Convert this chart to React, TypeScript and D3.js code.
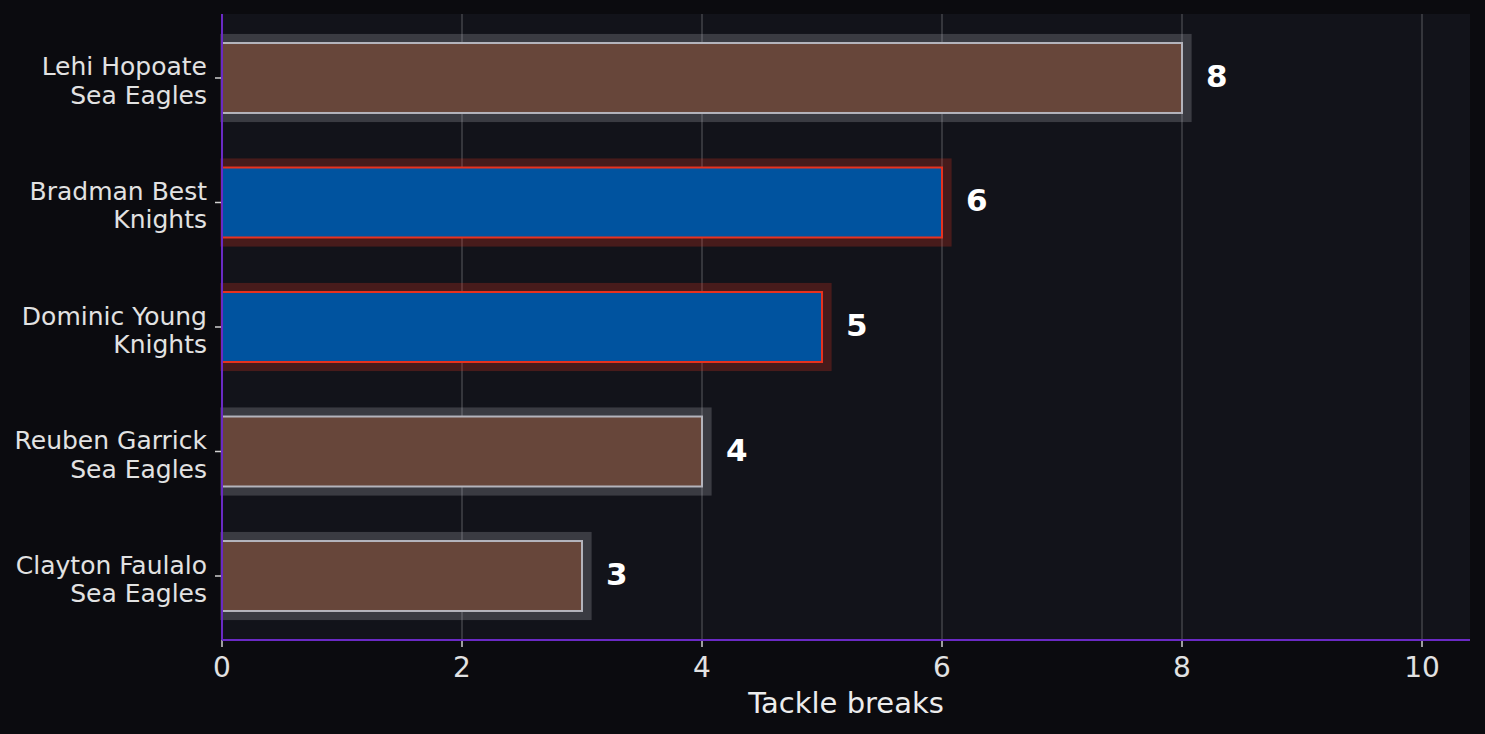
import * as d3 from 'd3';
import React, { useEffect, useRef } from 'react';

// data, top to bottom
const players = ['Lehi Hopoate', 'Bradman Best', 'Dominic Young', 'Reuben Garrick', 'Clayton Faulalo'];
const teams = ['Sea Eagles', 'Knights', 'Knights', 'Sea Eagles', 'Sea Eagles'];
const tackleBreaks = [8, 6, 5, 4, 3];
const xTicks = [0, 2, 4, 6, 8, 10];

const teamFill: any = { 'Sea Eagles': '#67463a', 'Knights': '#00539f' };
const teamEdge: any = { 'Sea Eagles': '#b4b4bc', 'Knights': '#e8321f' };

export default () => {
    const ref = useRef<any>();

    function draw(): void {
        const data = players.map((p, i) => ({ player: p, team: teams[i], value: tackleBreaks[i] }));

        const width = 1485;
        const height = 734;
        const margin = { top: 14, right: 15, bottom: 94, left: 222 };
        const innerW = width - margin.left - margin.right;
        const innerH = height - margin.top - margin.bottom;

        const svg = d3.select<any, any>(ref.current)
            .attr('width', width)
            .attr('height', height)
            .style('font-family', '"DejaVu Sans", sans-serif');
        svg.selectAll('*').remove();

        svg.append('rect')
            .attr('width', width)
            .attr('height', height)
            .attr('fill', '#0b0b0f');

        const stage = svg.append('g')
            .attr('transform', `translate(${margin.left},${margin.top})`);

        stage.append('rect')
            .attr('width', innerW)
            .attr('height', innerH)
            .attr('fill', '#12131a');

        const x = d3.scaleLinear().domain([0, 10.4]).range([0, innerW]);
        const y = d3.scaleBand<string>()
            .domain(players)
            .range([0, innerH])
            .paddingInner(0)
            .paddingOuter(0.014);
        const step = y.step();
        const mid = (p: string) => (y(p) as number) + y.bandwidth() / 2;

        // grid
        stage.append('g')
            .selectAll('line')
            .data(xTicks)
            .join('line')
            .attr('x1', d => x(d))
            .attr('x2', d => x(d))
            .attr('y1', 0)
            .attr('y2', innerH)
            .attr('stroke', '#ffffff')
            .attr('stroke-opacity', 0.2)
            .attr('stroke-width', 1.5);

        const bars = stage.append('g').attr('class', 'bars');

        // glow behind each bar
        bars.selectAll('.glow')
            .data(data)
            .join('rect')
            .attr('class', 'glow')
            .attr('x', x(-0.015))
            .attr('y', d => mid(d.player) - step * 0.354)
            .attr('width', d => x(d.value + 0.08) - x(-0.015))
            .attr('height', step * 0.708)
            .attr('fill', d => teamEdge[d.team])
            .attr('fill-opacity', 0.25);

        bars.selectAll('.bar')
            .data(data)
            .join('rect')
            .attr('class', 'bar')
            .attr('x', x(0))
            .attr('y', d => mid(d.player) - step * 0.281)
            .attr('width', d => x(d.value) - x(0))
            .attr('height', step * 0.562)
            .attr('fill', d => teamFill[d.team])
            .attr('stroke', d => teamEdge[d.team])
            .attr('stroke-width', 2);

        // value labels
        stage.append('g')
            .selectAll('text')
            .data(data)
            .join('text')
            .attr('x', d => x(d.value + 0.2))
            .attr('y', d => mid(d.player) + 9)
            .attr('fill', '#ffffff')
            .attr('font-weight', 'bold')
            .attr('font-size', 31)
            .text(d => d.value);

        // y axis labels + ticks
        const yAxis = stage.append('g').attr('class', 'y-axis');
        const yt = yAxis.selectAll('g')
            .data(data)
            .join('g')
            .attr('transform', d => `translate(0,${mid(d.player)})`);
        yt.append('line')
            .attr('x1', -7)
            .attr('x2', 0)
            .attr('stroke', '#d0d0d0')
            .attr('stroke-width', 1.5);
        const lbl = yt.append('text')
            .attr('text-anchor', 'end')
            .attr('fill', '#e2e2e2')
            .attr('font-size', 25);
        lbl.append('tspan').attr('x', -15).attr('y', -2.5).text(d => d.player);
        lbl.append('tspan').attr('x', -15).attr('y', 26).text(d => d.team);

        // x axis ticks + labels
        const xAxis = stage.append('g')
            .attr('class', 'x-axis')
            .attr('transform', `translate(0,${innerH})`);
        const xt = xAxis.selectAll('g')
            .data(xTicks)
            .join('g')
            .attr('transform', d => `translate(${x(d)},0)`);
        xt.append('line')
            .attr('y1', 0)
            .attr('y2', 7)
            .attr('stroke', '#d0d0d0')
            .attr('stroke-width', 1.5);
        xt.append('text')
            .attr('y', 37)
            .attr('text-anchor', 'middle')
            .attr('fill', '#e2e2e2')
            .attr('font-size', 28)
            .text(d => d);

        stage.append('text')
            .attr('x', innerW / 2)
            .attr('y', innerH + 73)
            .attr('text-anchor', 'middle')
            .attr('fill', '#ececec')
            .attr('font-size', 29)
            .text('Tackle breaks');

        // spines
        stage.append('line')
            .attr('x1', 0).attr('x2', 0)
            .attr('y1', 0).attr('y2', innerH)
            .attr('stroke', '#6a2ac4')
            .attr('stroke-width', 2);
        stage.append('line')
            .attr('x1', 0).attr('x2', innerW)
            .attr('y1', innerH).attr('y2', innerH)
            .attr('stroke', '#6a2ac4')
            .attr('stroke-width', 2);
    }

    useEffect(() => {
        draw();
    });

    return (
        <div style={{ position: 'fixed', left: 0, top: 0 }}>
            <svg ref={ref} style={{ display: 'block' }}></svg>
        </div>
    );
};
